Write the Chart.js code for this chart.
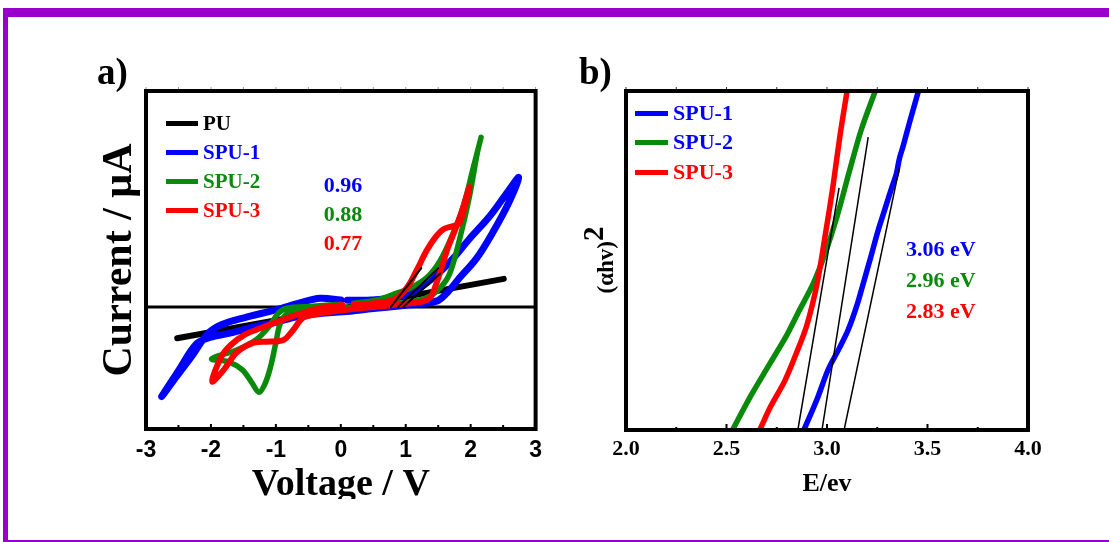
<!DOCTYPE html>
<html><head><meta charset="utf-8">
<script src="https://cdn.jsdelivr.net/npm/chart.js@4/dist/chart.umd.min.js"></script>
<style>
html,body{margin:0;padding:0;background:#fff;}
body{width:1109px;height:542px;position:relative;overflow:hidden;font-family:"Liberation Serif","Times New Roman",serif;}
.bar{position:absolute;background:#9900cc;}
.wrap{position:absolute;overflow:hidden;}
.lbl{position:absolute;font-weight:bold;white-space:nowrap;line-height:1;font-family:"Liberation Serif","Times New Roman",serif;}
.sw{position:absolute;height:5px;}
</style>
</head><body>
<div class="bar" style="left:3px;top:8px;width:1106px;height:9px"></div>
<div class="bar" style="left:3px;top:8px;width:5px;height:534px"></div>
<div class="bar" style="left:3px;top:540px;width:1106px;height:2px"></div>

<div class="wrap" style="left:90px;top:60px;width:460px;height:439px"><canvas id="ca" width="460" height="460" style="width:460px;height:460px"></canvas></div>
<div class="wrap" style="left:580px;top:60px;width:529px;height:440px"><canvas id="cb" width="529" height="460" style="width:529px;height:460px"></canvas></div>

<div class="lbl" style="left:97px;top:53px;font-size:37px">a)</div>
<div class="lbl" style="left:579px;top:53px;font-size:37px">b)</div>
<div class="lbl" id="ytb" style="left:603px;top:260px;transform:translate(-50%,-50%) rotate(-90deg)"><span style="font-size:23px">(αhv)</span><span style="font-size:29px;position:relative;top:-10px">2</span></div>
<div id="overlay"></div>

<script>
// ---------- Panel a: cyclic voltammetry ----------
const xTicksA = [-3, -2, -1, 0, 1, 2, 3];
const xTickLabelsA = ['-3', '-2', '-1', '0', '1', '2', '3'];

const puX = [-2.52, 2.51];
const puY = [-2.9, 2.6];

const spu1X = [0.0, -0.32, -0.62, -0.99, -1.49, -1.84, -2.05, -2.3, -2.55, -2.76, -2.5, -2.22, -2.0, -1.69, -1.34, -0.99, -0.68, -0.32, 0.03, 0.5, 1.0, 1.3, 1.5, 1.65, 1.83, 2.09, 2.34, 2.59, 2.74, 2.54, 2.28, 1.98, 1.73, 1.48, 1.17, 0.87, 0.46, 0.1];
const spu1Y = [0.65, 0.8, 0.4, -0.25, -1.0, -1.65, -2.5, -4.6, -6.6, -8.3, -5.9, -3.4, -2.8, -2.4, -1.85, -1.4, -0.9, -0.6, -0.45, -0.15, 0.15, 0.35, 0.6, 1.4, 2.7, 4.5, 6.9, 9.7, 12.0, 10.4, 8.3, 6.3, 4.5, 3.0, 1.6, 0.9, 0.65, 0.62];

const spu2X = [0.0, -0.47, -0.81, -0.96, -1.11, -1.31, -1.61, -1.99, -1.72, -1.52, -1.37, -1.26, -1.16, -1.08, -1.0, -0.93, -0.81, -0.5, -0.2, 0.2, 0.6, 1.0, 1.3, 1.5, 1.67, 1.83, 1.98, 2.1, 2.16, 2.04, 1.89, 1.70, 1.52, 1.32, 1.07, 0.87, 0.56, 0.2];
const spu2Y = [0.25, 0.05, -0.1, -0.55, -1.85, -3.05, -4.0, -4.8, -5.1, -5.8, -7.0, -7.9, -7.0, -5.5, -3.3, -1.5, -0.55, -0.3, -0.2, 0.0, 0.2, 0.45, 0.8, 1.6, 3.0, 6.3, 10.2, 14.2, 15.7, 12.9, 9.4, 6.4, 4.2, 2.7, 1.75, 1.3, 0.65, 0.35];

const spu3X = [0.03, -0.32, -0.68, -0.99, -1.23, -1.49, -1.69, -1.84, -1.98, -1.8, -1.6, -1.34, -1.08, -0.88, -0.73, -0.58, -0.32, 0.03, 0.5, 1.0, 1.25, 1.38, 1.45, 1.55, 1.65, 1.75, 1.85, 1.98, 1.83, 1.73, 1.58, 1.45, 1.32, 1.17, 1.02, 0.82, 0.46, 0.2];
const spu3Y = [0.18, -0.1, -0.74, -1.4, -1.95, -2.6, -3.5, -4.6, -6.9, -5.8, -4.2, -3.3, -3.2, -3.05, -2.1, -1.0, -0.6, -0.3, 0.0, 0.3, 0.5, 0.9, 1.8, 3.6, 5.5, 7.0, 8.6, 11.1, 7.8, 7.5, 7.2, 6.4, 5.2, 3.4, 1.8, 0.7, 0.3, 0.2];

const zeroX = [-3, 3];
const zeroY = [0, 0];
const onsetA = [[0.77, 0, 1.24, 3.6], [0.88, 0, 1.5, 3.6], [0.96, 0, 1.53, 3.1]];
const onsetValuesA = ['0.96', '0.88', '0.77'];

// ---------- Panel b: Tauc plot ----------
const xTicksB = [2.0, 2.5, 3.0, 3.5, 4.0];
const xTickLabelsB = ['2.0', '2.5', '3.0', '3.5', '4.0'];

const tauc1X = [2.885, 2.95, 3.005, 3.06, 3.105, 3.15, 3.185, 3.22, 3.255, 3.29, 3.325, 3.345, 3.36, 3.38, 3.41, 3.455];
const tauc1Y = [0, 0.09, 0.177, 0.24, 0.295, 0.37, 0.442, 0.515, 0.59, 0.655, 0.72, 0.755, 0.80, 0.84, 0.906, 1.0];
const tauc2X = [2.53, 2.62, 2.72, 2.80, 2.86, 2.93, 2.99, 3.05, 3.11, 3.17, 3.24];
const tauc2Y = [0, 0.1, 0.2, 0.28, 0.35, 0.43, 0.52, 0.63, 0.76, 0.885, 1.0];
const tauc3X = [2.665, 2.72, 2.79, 2.85, 2.90, 2.95, 2.99, 3.03, 3.065, 3.10];
const tauc3Y = [0, 0.07, 0.145, 0.23, 0.31, 0.43, 0.57, 0.72, 0.87, 1.0];
const tangentB = [[2.855, 0, 3.06, 0.714], [2.975, 0, 3.205, 0.864], [3.085, 0, 3.36, 0.773]];
const gapLabelsB = ['3.06 eV', '2.96 eV', '2.83 eV'];

const BLUE = '#0000ff', GREEN = '#0a8a0a', RED = '#ff0000', BLACK = '#000000';

const zip = (xs, ys) => xs.map((x, i) => ({x, y: ys[i]}));
const seg = s => [{x: s[0], y: s[1]}, {x: s[2], y: s[3]}];

const boxPlugin = {
  id: 'box',
  afterDatasetsDraw(chart, args, o) {
    const {ctx, chartArea: a, scales: {x}} = chart;
    ctx.save();
    ctx.strokeStyle = '#000';
    for (let v = x.min; v <= x.max + 1e-9; v += o.step) {
      const px = x.getPixelForValue(v);
      const major = Math.abs(v / o.majorStep - Math.round(v / o.majorStep)) < 1e-6;
      ctx.lineWidth = 2;
      ctx.beginPath(); ctx.moveTo(px, a.bottom); ctx.lineTo(px, a.bottom - (major ? o.majorLen : o.minorLen)); ctx.stroke();
      ctx.lineWidth = 1; ctx.strokeStyle = o.topColor;
      ctx.beginPath(); ctx.moveTo(px, a.top); ctx.lineTo(px, a.top - 4); ctx.stroke();
      ctx.strokeStyle = '#000';
    }
    ctx.lineWidth = o.lw;
    ctx.strokeRect(a.left, a.top, a.right - a.left, a.bottom - a.top);
    ctx.restore();
  }
};

const lineDs = (label, pts, color, w, order, tension) => ({
  label, data: pts, borderColor: color, backgroundColor: color, borderWidth: w,
  showLine: true, pointRadius: 0, tension: tension, order, borderCapStyle: 'round', borderJoinStyle: 'round', fill: false
});

const chartA = new Chart(document.getElementById('ca'), {
  type: 'scatter',
  data: {
    datasets: [
      lineDs('zero', zip(zeroX, zeroY), BLACK, 3, 10, 0),
      lineDs('PU', zip(puX, puY), BLACK, 6, 4, 0),
      lineDs('SPU-1', zip(spu1X, spu1Y), BLUE, 7, 3, 0.35),
      lineDs('SPU-2', zip(spu2X, spu2Y), GREEN, 5.5, 2, 0.35),
      lineDs('SPU-3', zip(spu3X, spu3Y), RED, 6, 1, 0.35),
      ...onsetA.map((s, i) => lineDs('onset' + i, seg(s), BLACK, 2, 0, 0))
    ]
  },
  options: {
    responsive: false, animation: false, events: [],
    layout: {padding: {left: 0, top: 31, right: 10, bottom: 0}},
    plugins: {legend: {display: false}, tooltip: {enabled: false},
      box: {lw: 4, step: 0.5, majorStep: 1, majorLen: 5, minorLen: 4, topColor: '#999'}},
    scales: {
      x: {
        type: 'linear', min: -3, max: 3,
        afterBuildTicks: s => { s.ticks = xTicksA.map(v => ({value: v})); },
        afterFit: s => { s.height = 91; },
        grid: {display: false, drawTicks: false}, border: {display: false},
        ticks: {color: '#000', padding: 8, font: {family: '"Liberation Sans", Arial, sans-serif', size: 23, weight: 'bold'},
          callback: v => xTickLabelsA[xTicksA.indexOf(v)] ?? ''},
        title: {display: true, text: 'Voltage / V', color: '#000', padding: {top: 0, bottom: 12},
          font: {family: '"Liberation Serif", "Times New Roman", serif', size: 38, weight: 'bold'}}
      },
      y: {
        type: 'linear', min: -11.3, max: 20,
        afterFit: s => { s.width = 56; },
        grid: {display: false, drawTicks: false}, border: {display: false},
        ticks: {display: false},
        title: {display: true, text: 'Current / μA', color: '#000', padding: {top: 5, bottom: 0},
          font: {family: '"Liberation Serif", "Times New Roman", serif', size: 42, weight: 'bold'}}
      }
    }
  },
  plugins: [boxPlugin]
});

const chartB = new Chart(document.getElementById('cb'), {
  type: 'scatter',
  data: {
    datasets: [
      lineDs('SPU-1', zip(tauc1X, tauc1Y), BLUE, 5.5, 3, 0.3),
      lineDs('SPU-2', zip(tauc2X, tauc2Y), GREEN, 5.5, 2, 0.3),
      lineDs('SPU-3', zip(tauc3X, tauc3Y), RED, 5.5, 1, 0.3),
      ...tangentB.map((s, i) => lineDs('fit' + i, seg(s), BLACK, 1.5, 0, 0))
    ].map(d => Object.assign(d, {borderCapStyle: 'butt'}))
  },
  options: {
    responsive: false, animation: false, events: [],
    layout: {padding: {left: 0, top: 31, right: 81, bottom: 0}},
    plugins: {legend: {display: false}, tooltip: {enabled: false},
      box: {lw: 4, step: 0.25, majorStep: 0.5, majorLen: 6, minorLen: 3, topColor: '#333'}},
    scales: {
      x: {
        type: 'linear', min: 2, max: 4,
        afterBuildTicks: s => { s.ticks = xTicksB.map(v => ({value: v})); },
        afterFit: s => { s.height = 90; },
        grid: {display: false, drawTicks: false}, border: {display: false},
        ticks: {color: '#000', padding: 6, font: {family: '"Liberation Serif", "Times New Roman", serif', size: 22, weight: 'bold'},
          callback: v => xTickLabelsB[xTicksB.indexOf(v)] ?? ''},
        title: {display: true, text: 'E/ev', color: '#000', padding: {top: 0, bottom: 20},
          font: {family: '"Liberation Serif", "Times New Roman", serif', size: 26, weight: 'bold'}}
      },
      y: {
        type: 'linear', min: 0, max: 1,
        afterFit: s => { s.width = 46; },
        grid: {display: false, drawTicks: false}, border: {display: false},
        ticks: {display: false}
      }
    }
  },
  plugins: [boxPlugin]
});

// ---------- HTML legends and annotations ----------
const ov = document.getElementById('overlay');
function label(text, x, y, size, color, center) {
  const d = document.createElement('div');
  d.className = 'lbl';
  d.textContent = text;
  d.style.fontSize = size + 'px';
  d.style.color = color;
  d.style.left = x + 'px';
  d.style.top = (y - size / 2) + 'px';
  if (center) d.style.transform = 'translateX(-50%)';
  ov.appendChild(d);
}
function swatch(x, y, w, color) {
  const d = document.createElement('div');
  d.className = 'sw';
  d.style.left = x + 'px'; d.style.top = (y - 2.5) + 'px'; d.style.width = w + 'px'; d.style.background = color;
  ov.appendChild(d);
}
const legA = chartA.data.datasets.filter(d => ['PU', 'SPU-1', 'SPU-2', 'SPU-3'].includes(d.label));
const legAy = [123, 152, 181, 210];
legA.forEach((d, i) => { swatch(166, legAy[i], 32, d.borderColor); label(d.label, 203, legAy[i], 21, d.borderColor); });
const annAc = [BLUE, GREEN, RED];
const annAy = [185, 214, 243];
onsetValuesA.forEach((t, i) => label(t, 343, annAy[i], 22, annAc[i], true));
const legB = chartB.data.datasets.filter(d => d.label.startsWith('SPU'));
const legBy = [113, 142, 172];
const legBtext = [BLUE, BLUE, RED];
legB.forEach((d, i) => { swatch(635, legBy[i], 33, d.borderColor); label(d.label, 673, legBy[i], 22, legBtext[i]); });
const annBy = [249, 280, 311];
gapLabelsB.forEach((t, i) => label(t, 906, annBy[i], 22, annAc[i]));
</script>
</body></html>
